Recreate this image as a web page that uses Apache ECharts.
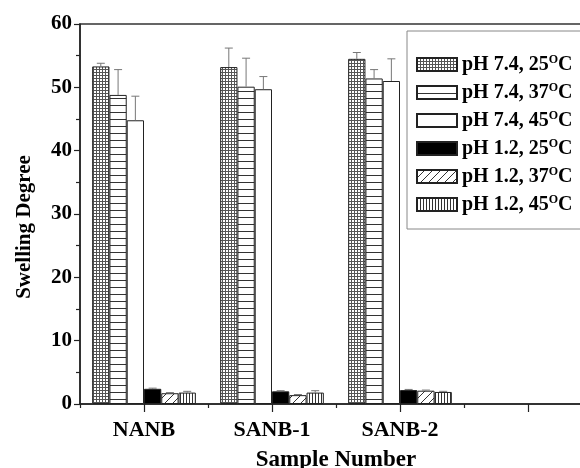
<!DOCTYPE html>
<html>
<head>
<meta charset="utf-8">
<script src="https://cdn.jsdelivr.net/npm/echarts@6/dist/echarts.min.js"></script>
<style>html,body{margin:0;padding:0;background:#fff}#c{width:580px;height:468px}</style>
</head>
<body>
<div id="c"></div>
<script>
// ---- data ----
var categories = ['NANB', 'SANB-1', 'SANB-2', ''];
var seriesNames = ['pH 7.4, 25', 'pH 7.4, 37', 'pH 7.4, 45', 'pH 1.2, 25', 'pH 1.2, 37', 'pH 1.2, 45'];
var ph74_25 = [53.3, 53.2, 54.5, null];
var ph74_37 = [48.8, 50.1, 51.4, null];
var ph74_45 = [44.8, 49.7, 51.0, null];
var ph12_25 = [2.4, 2.0, 2.2, null];
var ph12_37 = [1.7, 1.4, 2.1, null];
var ph12_45 = [1.8, 1.8, 1.9, null];
var err74_25 = [0.5, 3.0, 1.0];
var err74_37 = [4.0, 4.5, 1.4];
var err74_45 = [3.8, 2.0, 3.5];
var err12_25 = [0.1, 0.1, 0.1];
var err12_37 = [0.1, 0.1, 0.1];
var err12_45 = [0.2, 0.3, 0.1];
var yTicks = [0, 10, 20, 30, 40, 50, 60];

var values = [ph74_25, ph74_37, ph74_45, ph12_25, ph12_37, ph12_45];
var errors = [err74_25, err74_37, err74_45, err12_25, err12_37, err12_45];

// ---- patterns ----
function tile(w, h, draw) {
  var c = document.createElement('canvas');
  c.width = w; c.height = h;
  var g = c.getContext('2d');
  g.fillStyle = '#fff'; g.fillRect(0, 0, w, h);
  g.strokeStyle = '#333'; g.fillStyle = '#333'; g.lineWidth = 1;
  draw(g, w, h);
  return { image: c, repeat: 'repeat' };
}
var patGrid = tile(3, 3, function (g) { g.fillStyle = '#555'; g.fillRect(0, 0, 3, 1); g.fillRect(0, 0, 1, 3); });
var patHoriz = tile(4, 7, function (g) { g.fillRect(0, 0, 4, 1); });
var patWhite = '#ffffff';
var patBlack = '#000000';
var patDiag = tile(8, 8, function (g) {
  g.beginPath(); g.moveTo(-1, 9); g.lineTo(9, -1); g.stroke();
});
var patVert = tile(3, 4, function (g) { g.fillRect(0, 0, 1, 4); });
var fills = [patGrid, patHoriz, patWhite, patBlack, patDiag, patVert];

var FONT = '"Liberation Serif", "DejaVu Serif", serif';
var GAP = 0.19;

var series = [];
values.forEach(function (v, i) {
  series.push({
    name: seriesNames[i],
    type: 'bar',
    data: v,
    barGap: '0%',
    barCategoryGap: (GAP * 100) + '%',
    itemStyle: { color: fills[i], borderColor: '#222', borderWidth: 1 },
    z: 2
  });
});
var errData = [];
errors.forEach(function (e, si) {
  e.forEach(function (val, ci) { errData.push([ci, values[si][ci], val, si]); });
});
series.push({
  type: 'custom',
  data: errData,
  encode: { x: 0, y: 1 },
  z: 5,
  silent: true,
  renderItem: function (params, api) {
    var ci = api.value(0), v = api.value(1), e = api.value(2), si = api.value(3);
    var band = api.size([1, 0])[0];
    var bw = band * (1 - GAP) / 6;
    var base = api.coord([ci, v]);
    var top = api.coord([ci, v + e]);
    var x = base[0] + (si - 2.5) * bw;
    var st = { stroke: '#777', lineWidth: 1 };
    return {
      type: 'group',
      children: [
        { type: 'line', shape: { x1: x, y1: base[1], x2: x, y2: top[1] }, style: st },
        { type: 'line', shape: { x1: x - 4, y1: top[1], x2: x + 4, y2: top[1] }, style: st }
      ]
    };
  }
});

var chart = echarts.init(document.getElementById('c'), null, { renderer: 'canvas' });
chart.setOption({
  animation: false,
  backgroundColor: '#fff',
  grid: { left: 80, top: 24, right: -12, bottom: 64, show: true, borderColor: '#333', borderWidth: 1.5, backgroundColor: 'transparent', containLabel: false, outerBoundsMode: 'none' },
  legend: {
    orient: 'vertical',
    left: 407, top: 31,
    padding: [23, 30, 14, 9],
    borderColor: '#888', borderWidth: 1,
    icon: 'rect',
    itemWidth: 40, itemHeight: 13, itemGap: 7,
    itemTextGap: 5,
    data: seriesNames,
    formatter: function (n) { return '{a|' + n + '}{s|O}{a|C}'; },
    textStyle: {
      rich: {
        a: { fontFamily: FONT, fontWeight: 'bold', fontSize: 20, lineHeight: 22, color: '#000' },
        s: { fontFamily: FONT, fontWeight: 'bold', fontSize: 12, lineHeight: 22, color: '#000', padding: [0, 0, 9, 0] }
      }
    }
  },
  xAxis: [{
    type: 'category',
    data: categories,
    position: 'bottom',
    axisLine: { lineStyle: { color: '#222', width: 1.5 } },
    axisTick: { show: true, alignWithLabel: false, length: 4, lineStyle: { color: '#222', width: 1.2 } },
    axisLabel: { fontFamily: FONT, fontWeight: 'bold', fontSize: 22, color: '#000', margin: 15 },
    name: 'Sample Number',
    nameLocation: 'middle',
    nameGap: 45,
    nameTextStyle: { fontFamily: FONT, fontWeight: 'bold', fontSize: 23, color: '#000' }
  }, {
    type: 'category',
    data: categories,
    position: 'bottom',
    axisLine: { show: false },
    axisTick: { show: true, alignWithLabel: true, length: 8, lineStyle: { color: '#222', width: 1.2 } },
    axisLabel: { show: false }
  }],
  yAxis: {
    type: 'value',
    min: yTicks[0], max: yTicks[yTicks.length - 1], interval: 10,
    axisLine: { show: true, lineStyle: { color: '#222', width: 1.5 } },
    axisTick: { show: true, length: 6, lineStyle: { color: '#222', width: 1.2 } },
    minorTick: { show: true, splitNumber: 2, length: 4, lineStyle: { color: '#222', width: 1.2 } },
    splitLine: { show: false },
    axisLabel: { fontFamily: FONT, fontWeight: 'bold', fontSize: 21, color: '#000', margin: 8 }
  },
  graphic: [{
    type: 'text',
    x: 25, y: 227,
    rotation: Math.PI / 2,
    style: { text: 'Swelling Degree', fontFamily: FONT, fontWeight: 'bold', fontSize: 21, fill: '#000', textAlign: 'center', textVerticalAlign: 'middle' }
  }],
  series: series
});
</script>
</body>
</html>
